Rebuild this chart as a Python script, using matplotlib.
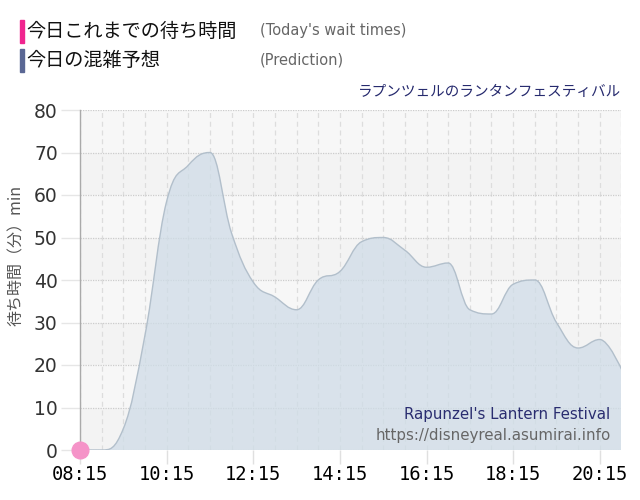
import matplotlib
matplotlib.use("Agg")
import matplotlib.pyplot as plt
from matplotlib.path import Path
from matplotlib.patches import PathPatch, Rectangle
import numpy as np

plt.rcParams['font.family'] = ['Noto Sans CJK JP', 'DejaVu Sans']

# ---- data ----
times = ["08:15", "08:45", "09:15", "09:45", "10:15", "10:45", "11:15", "11:45",
         "12:15", "12:45", "13:15", "13:45", "14:15", "14:45", "15:15", "15:45",
         "16:15", "16:45", "17:15", "17:45", "18:15", "18:45", "19:15", "19:45",
         "20:15", "20:45"]
prediction = [0, 0, 5, 27, 58.5, 67, 70, 51, 39.5, 36, 33, 40, 42, 49, 50, 47,
              43, 44, 33, 32, 39, 40, 30, 24, 26, 19]
today_times = ["08:15"]
today_values = [0]
xtick_labels = ["08:15", "10:15", "12:15", "14:15", "16:15", "18:15", "20:15"]
yticks = [0, 10, 20, 30, 40, 50, 60, 70, 80]
title = "ラプンツェルのランタンフェスティバル"
legend_jp = ["今日これまでの待ち時間", "今日の混雑予想"]
legend_en = ["(Today's wait times)", "(Prediction)"]
ylabel = "待ち時間（分）min"
watermark1 = "Rapunzel's Lantern Festival"
watermark2 = "https://disneyreal.asumirai.info"


def to_h(t):
    h, m = t.split(":")
    return int(h) + int(m) / 60.0


xs = np.array([to_h(t) for t in times])
ys = np.array(prediction, dtype=float)


def spline_path(x, y):
    """Highcharts-like spline: cubic Bezier segments through the points."""
    n = len(x)
    lc = [(x[i], y[i]) for i in range(n)]
    rc = [(x[i], y[i]) for i in range(n)]
    s = 1.5
    d = s + 1
    for i in range(1, n - 1):
        px, py = x[i], y[i]
        lx, ly = x[i - 1], y[i - 1]
        nx, ny = x[i + 1], y[i + 1]
        lcx = (s * px + lx) / d
        lcy = (s * py + ly) / d
        rcx = (s * px + nx) / d
        rcy = (s * py + ny) / d
        corr = 0.0
        if rcx != lcx:
            corr = (rcy - lcy) * (rcx - px) / (rcx - lcx) + py - rcy
        lcy += corr
        rcy += corr
        if lcy > ly and lcy > py:
            lcy = max(ly, py)
            rcy = 2 * py - lcy
        elif lcy < ly and lcy < py:
            lcy = min(ly, py)
            rcy = 2 * py - lcy
        if rcy > ny and rcy > py:
            rcy = max(ny, py)
            lcy = 2 * py - rcy
        elif rcy < ny and rcy < py:
            rcy = min(ny, py)
            lcy = 2 * py - rcy
        lc[i] = (lcx, lcy)
        rc[i] = (rcx, rcy)
    verts = [(x[0], y[0])]
    codes = [Path.MOVETO]
    for i in range(1, n):
        verts += [rc[i - 1], lc[i], (x[i], y[i])]
        codes += [Path.CURVE4] * 3
    return verts, codes


fig = plt.figure(figsize=(6.4, 5.0), dpi=100)
ax = fig.add_axes([0.125, 0.1, 0.846, 0.68])

x0, x1 = to_h("08:15"), to_h("20:45")
ax.set_xlim(x0, x1)
ax.set_ylim(0, 80)

# background bands
ax.set_facecolor("#f4f4f4")
for k in range(0, 80, 20):
    ax.axhspan(k + 10, k + 20, color="#f7f7f7", zorder=0, lw=0)
    ax.axhspan(k, k + 10, color="#f3f3f3", zorder=0, lw=0)

# grid
for i in range(len(times)):
    xv = xs[i]
    ax.axvline(xv, color="#dddddd", lw=0.9, ls=(0, (4, 3)), zorder=1)
for yv in yticks:
    ax.axhline(yv, color="#cccccc", lw=0.9, ls=(0, (1, 1)), zorder=1)

# prediction area
verts, codes = spline_path(xs, ys)
line_path = Path(verts, codes)
fill_verts = verts + [(xs[-1], 0), (xs[0], 0), (xs[0], ys[0])]
fill_codes = codes + [Path.LINETO, Path.LINETO, Path.CLOSEPOLY]
ax.add_patch(PathPatch(Path(fill_verts, fill_codes), facecolor="#cfdce7",
                       alpha=0.75, edgecolor="none", zorder=2))
ax.add_patch(PathPatch(line_path, facecolor="none", edgecolor="#b2bfcb",
                       lw=1.0, zorder=3))

# today's line / marker
ax.plot([to_h(t) for t in today_times], today_values, 'o', color="#f593c8",
        markersize=12, zorder=5, clip_on=False)

# axes styling
for sp in ["top", "right", "bottom"]:
    ax.spines[sp].set_visible(False)
ax.spines["left"].set_color("#aaaaaa")
ax.spines["left"].set_linewidth(1.0)

ax.set_yticks(yticks)
ax.set_yticklabels([str(v) for v in yticks], fontsize=13.5, color="#333333",
                   family=["DejaVu Sans"])
ax.tick_params(axis="y", length=14, color="#e6e6e6", width=1, pad=2)
ax.set_xticks([to_h(t) for t in xtick_labels])
ax.set_xticklabels(xtick_labels, fontsize=13.5, color="#000000",
                   family=["DejaVu Sans Mono"])
ax.tick_params(axis="x", length=10, color="#e0e0e0", width=1, pad=1)

fig.text(0.025, 0.49, ylabel, rotation=90, ha="center", va="center",
         fontsize=11.5, color="#555555")

# title
fig.text(0.971, 0.816, title, ha="right", va="center", fontsize=10.5,
         color="#262a6e")

# legend
fig.patches.append(Rectangle((20 / 640, 1 - 43 / 500), 4 / 640, 23 / 500,
                             transform=fig.transFigure, color="#f0258f"))
fig.patches.append(Rectangle((20 / 640, 1 - 72 / 500), 4 / 640, 23 / 500,
                             transform=fig.transFigure, color="#5a6794"))
fig.text(26 / 640, 1 - 31 / 500, legend_jp[0], ha="left", va="center",
         fontsize=13.8, color="#111111")
fig.text(26 / 640, 1 - 60 / 500, legend_jp[1], ha="left", va="center",
         fontsize=13.8, color="#111111")
fig.text(260 / 640, 1 - 31 / 500, legend_en[0], ha="left", va="center",
         fontsize=10.5, color="#666666", family=["DejaVu Sans"])
fig.text(260 / 640, 1 - 60 / 500, legend_en[1], ha="left", va="center",
         fontsize=10.5, color="#666666", family=["DejaVu Sans"])

# watermark
ax.text(0.98, 0.105, watermark1, transform=ax.transAxes, ha="right",
        va="center", fontsize=10.8, color="#2a2d70", family=["DejaVu Sans"],
        zorder=6)
ax.text(0.98, 0.042, watermark2, transform=ax.transAxes, ha="right",
        va="center", fontsize=10.8, color="#666666", family=["DejaVu Sans"],
        zorder=6)

fig.savefig("out.png", dpi=100)
